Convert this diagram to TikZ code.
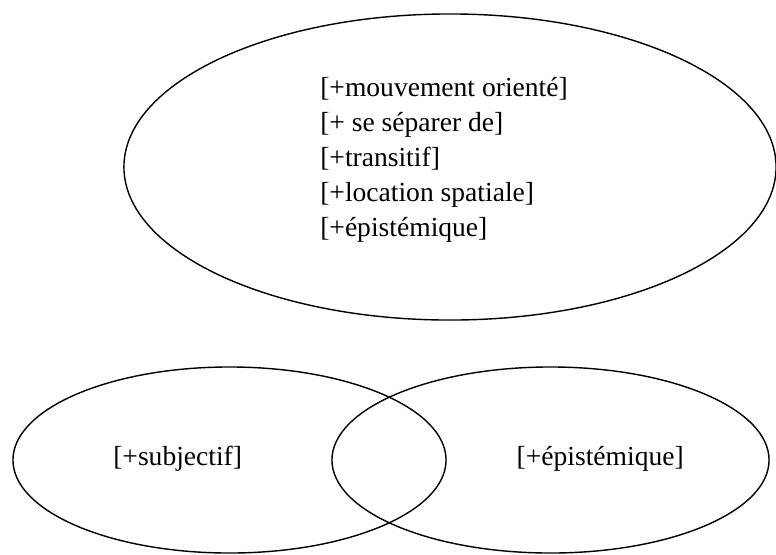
\documentclass[tikz,border=0pt]{standalone}
\usepackage{fontspec}
\setmainfont{Liberation Serif}
\usetikzlibrary{shapes.geometric}
\usetikzlibrary{positioning}
\tikzstyle{bubble} = [ellipse, draw, line width=1pt, inner sep=0pt]
\tikzstyle{feature} = [inner sep=0pt, align=left,
    font=\fontsize{19.6pt}{24.9pt}\selectfont]

\begin{document}
\begin{tikzpicture}[x=0.025cm, y=-0.025cm]
    \useasboundingbox (0,0) rectangle (776,554);
    % Place ellipses
    \node [bubble, minimum width=16.3cm, minimum height=7.65cm] (top) at (450,167) {};
    \node [bubble, minimum width=10.825cm, minimum height=4.65cm] (subj) at (229.5,460) {};
    \node [bubble, minimum width=10.925cm, minimum height=4.65cm] (epis) at (550.5,460) {};
    % Place features
    \node [feature, anchor=west] (toplist) at (320,160) {{[+mouvement orienté]}\\{[+ se séparer de]}\\{[+transitif]}\\{[+location spatiale]}\\{[+épistémique]}};
    \node [feature, anchor=west] (subjtext) at (113,459) {[+subjectif]};
    \node [feature, anchor=east] (epistext) at (684,459) {[+épistémique]};
\end{tikzpicture}
\end{document}
